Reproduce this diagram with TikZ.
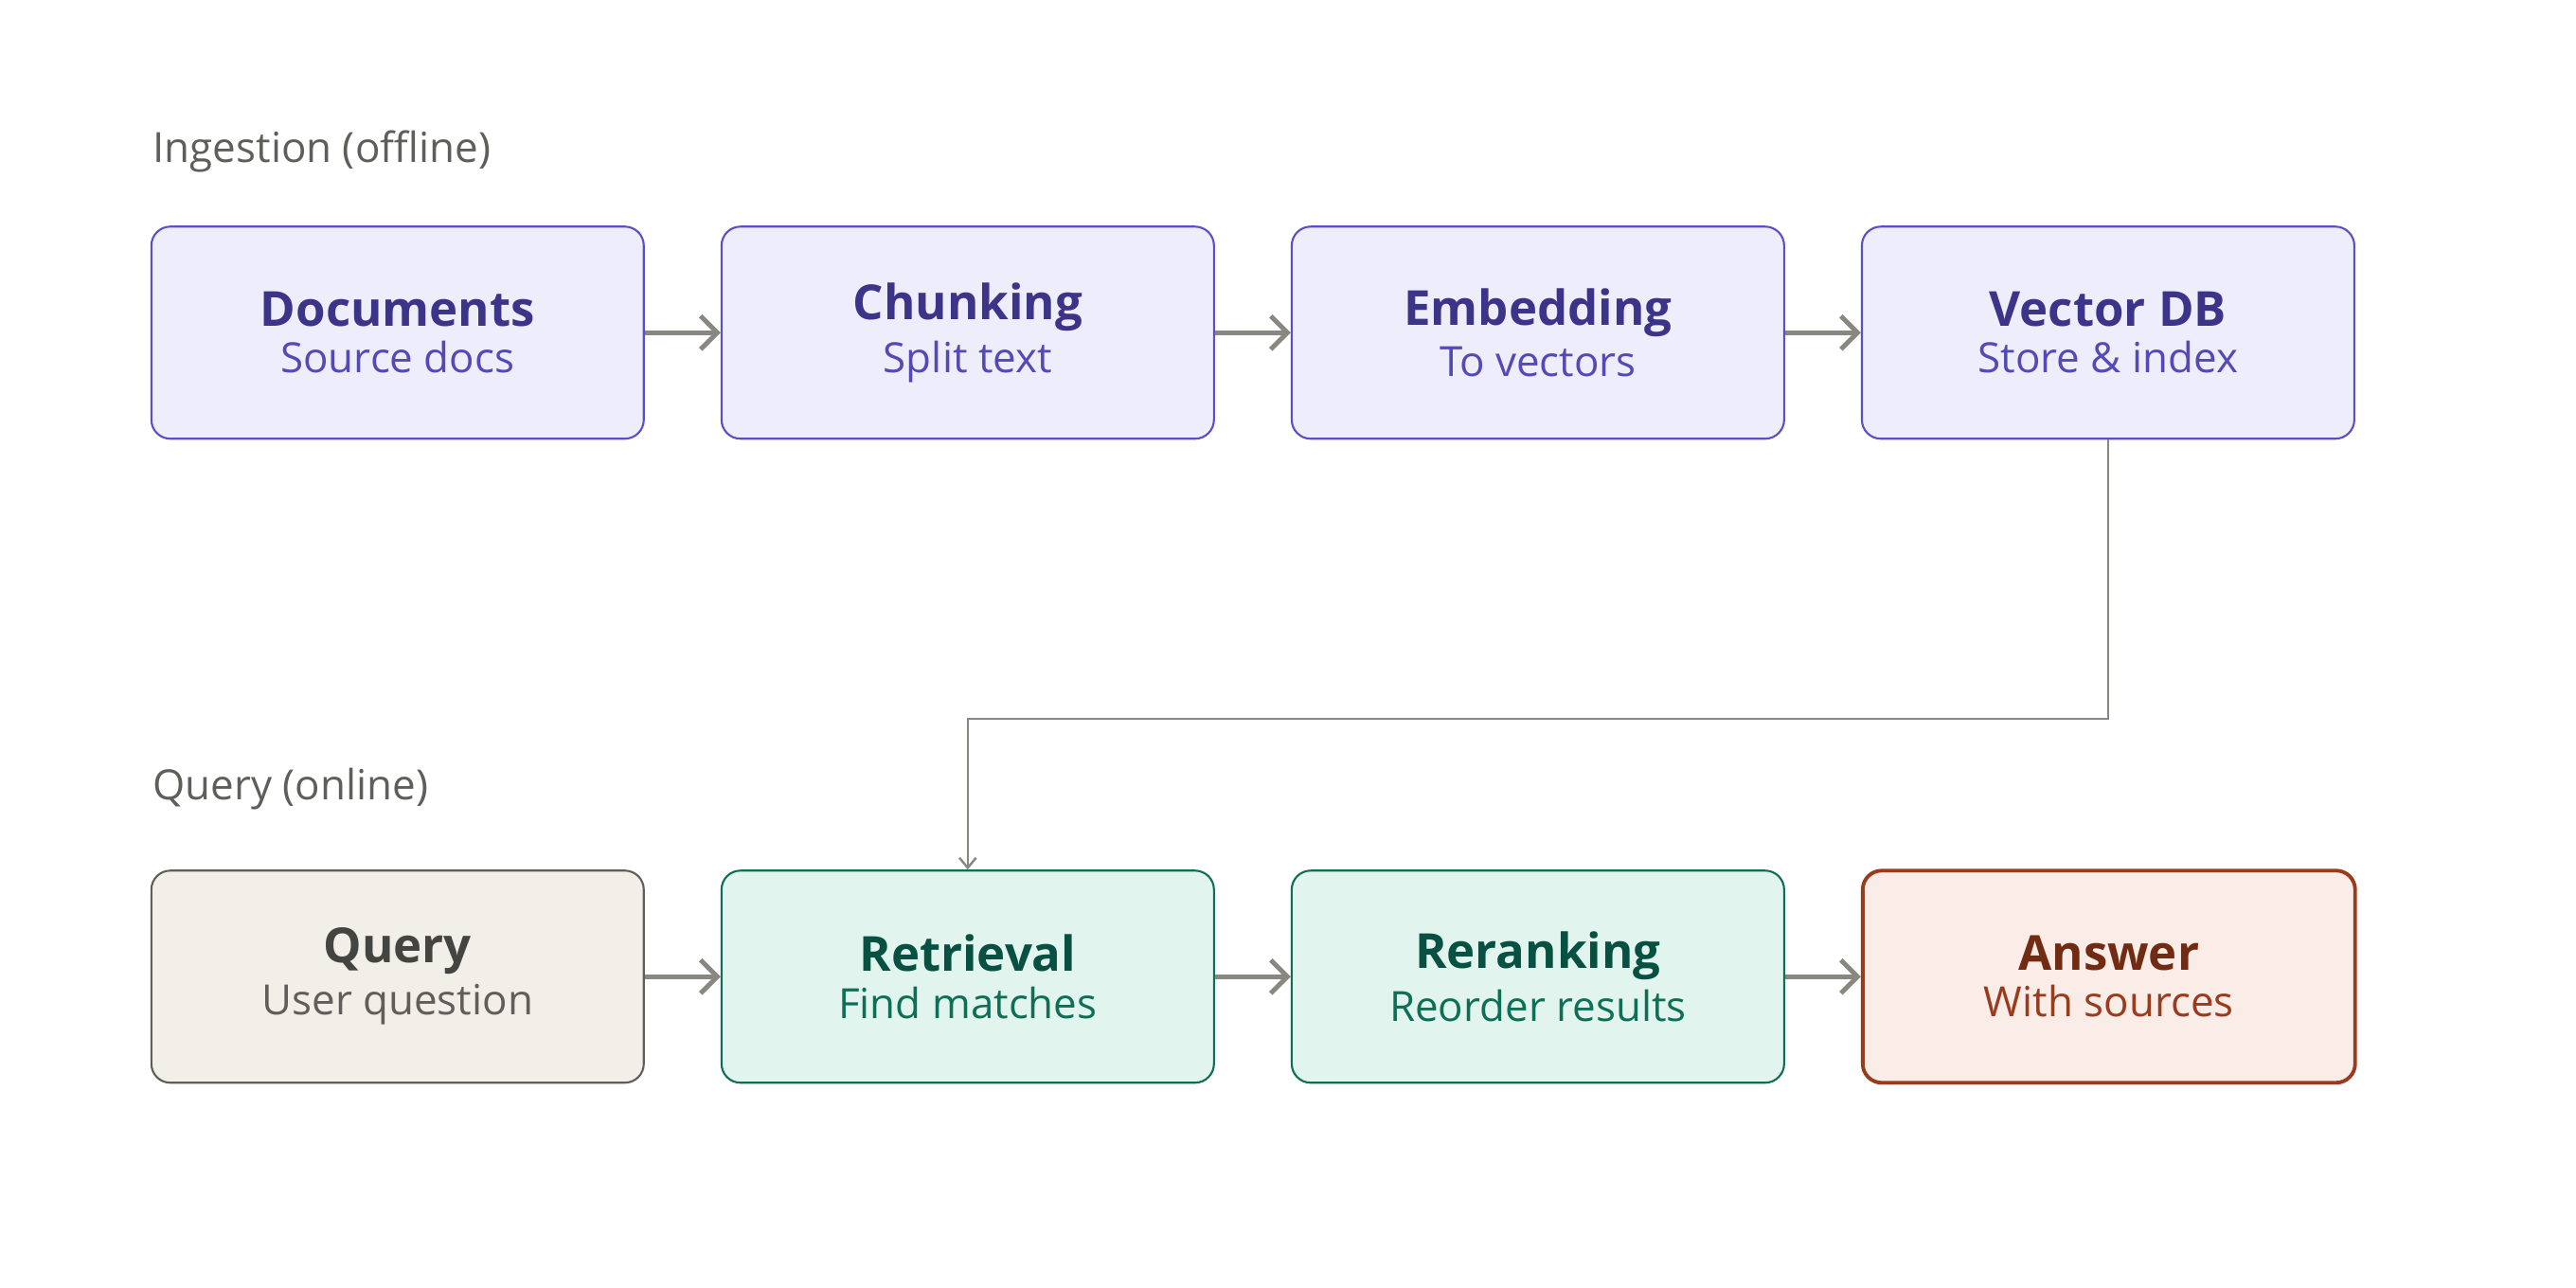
\documentclass[tikz,border=0pt]{standalone}
\usepackage{fontspec}
\setmainfont{Open Sans}
\usetikzlibrary{positioning, arrows.meta}
\definecolor{arrowgray}{HTML}{888780}
\definecolor{ingfill}{HTML}{EEEDFC}
\definecolor{ingdraw}{HTML}{5B4FC7}
\definecolor{ingtitle}{HTML}{3C3489}
\definecolor{ingsub}{HTML}{534AB7}
\definecolor{qfill}{HTML}{F1EFE8}
\definecolor{qdraw}{HTML}{5F5E5A}
\definecolor{qtitle}{HTML}{444441}
\definecolor{rfill}{HTML}{E1F5EE}
\definecolor{rdraw}{HTML}{0F6E56}
\definecolor{rtitle}{HTML}{085041}
\definecolor{afill}{HTML}{FAECE7}
\definecolor{adraw}{HTML}{993C1D}
\definecolor{atitle}{HTML}{712B13}
\newcommand{\stagetext}[3]{{\fontsize{14.5}{20}\selectfont\bfseries\color{#3}#1}\\[2pt]{\fontsize{12.5}{16}\selectfont #2}}

\begin{document}
\begin{tikzpicture}[x=0.01735cm, y=-0.01735cm,
  stage/.style={rectangle, rounded corners=0.2cm, minimum width=5.2cm, minimum height=2.24cm, align=center, line width=0.6pt},
  ing/.style={stage, fill=ingfill, draw=ingdraw, text=ingsub},
  qry/.style={stage, fill=qfill, draw=qdraw, text=qdraw},
  ret/.style={stage, fill=rfill, draw=rdraw, text=rdraw},
  ans/.style={stage, fill=afill, draw=adraw, text=adraw, line width=1.1pt},
  flow/.style={-{Straight Barb[length=5pt, width=10pt]}, color=arrowgray, line width=1.4pt},
  lbl/.style={anchor=west, text=qdraw, font=\fontsize{12.5}{15}\selectfont}]

  \useasboundingbox (0,0) rectangle (1568,784);

  % ingestion row
  \node[lbl] (inglbl) at (86, 92) {Ingestion (offline)};
  \node[ing] (docs) at (242, 202.5) {\stagetext{Documents}{Source docs}{ingtitle}};
  \node[ing, right=0.8cm of docs] (chunk) {\stagetext{Chunking}{Split text}{ingtitle}};
  \node[ing, right=0.8cm of chunk] (embed) {\stagetext{Embedding}{To vectors}{ingtitle}};
  \node[ing, right=0.8cm of embed] (vdb) {\stagetext{Vector DB}{Store \& index}{ingtitle}};

  % query row
  \node[lbl] (qlbl) at (86, 480) {Query (online)};
  \node[qry] (query) at (242, 594.5) {\stagetext{Query}{User question}{qtitle}};
  \node[ret, right=0.8cm of query] (retr) {\stagetext{Retrieval}{Find matches}{rtitle}};
  \node[ret, right=0.8cm of retr] (rerank) {\stagetext{Reranking}{Reorder results}{rtitle}};
  \node[ans, right=0.8cm of rerank] (answer) {\stagetext{Answer}{With sources}{atitle}};

  \draw[flow] (docs) -- (chunk);
  \draw[flow] (chunk) -- (embed);
  \draw[flow] (embed) -- (vdb);
  \draw[flow] (query) -- (retr);
  \draw[flow] (retr) -- (rerank);
  \draw[flow] (rerank) -- (answer);

  \draw[-{Straight Barb[length=3pt, width=5pt]}, color=arrowgray, line width=0.7pt]
    (vdb.south) -- ++(0, 170) -| (retr.north);

\end{tikzpicture}
\end{document}
